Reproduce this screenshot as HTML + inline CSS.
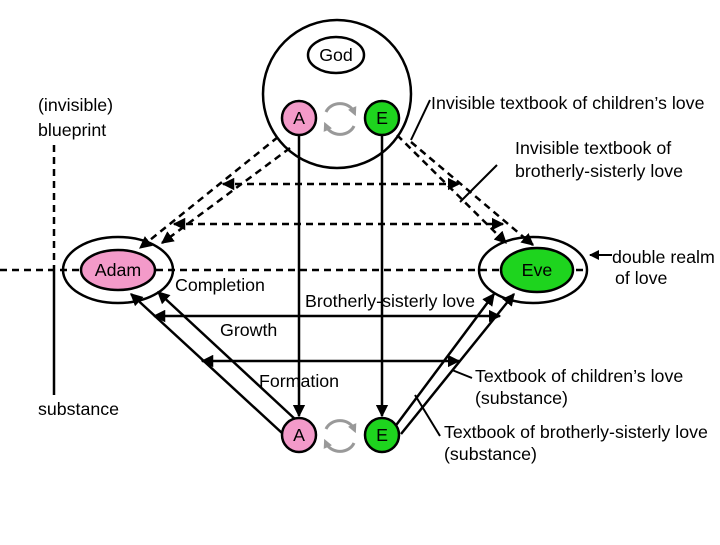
<!DOCTYPE html>
<html><head><style>
body{margin:0;background:#fff}
svg text{font-family:"Liberation Sans",Arial,sans-serif;font-size:17.8px;fill:#000}
</style></head><body>
<svg width="720" height="540" viewBox="0 0 720 540" xmlns="http://www.w3.org/2000/svg">
<defs>
<marker id="ar" viewBox="0 0 10 10" refX="9" refY="5" markerWidth="5" markerHeight="5" orient="auto-start-reverse"><path d="M0,0L10,5L0,10z" fill="#000"/></marker>
<marker id="ag" viewBox="0 0 10 10" refX="5" refY="5" markerWidth="3" markerHeight="3" orient="auto"><path d="M0,0L10,5L0,10z" fill="#999"/></marker>
</defs>
<rect width="720" height="540" fill="#fff"/>
<g stroke="#000" stroke-width="2.5" fill="none">
<ellipse cx="337" cy="94" rx="74" ry="74"/>
<ellipse cx="336" cy="55" rx="28" ry="18"/>
<g stroke-dasharray="7,5">
<line x1="0" y1="270" x2="588" y2="270"/>
<line x1="54" y1="145" x2="54" y2="270"/>
<line x1="278" y1="137" x2="140" y2="248" marker-end="url(#ar)"/>
<line x1="290" y1="148" x2="162" y2="243" marker-end="url(#ar)"/>
<line x1="223" y1="184" x2="459" y2="184" marker-start="url(#ar)" marker-end="url(#ar)"/>
<line x1="174" y1="224" x2="503" y2="224" marker-start="url(#ar)" marker-end="url(#ar)"/>
<line x1="397" y1="135" x2="506" y2="243" marker-end="url(#ar)"/>
<line x1="411" y1="142" x2="533" y2="245" marker-end="url(#ar)"/>
</g>
<line x1="54" y1="270" x2="54" y2="395"/>
<line x1="299" y1="136" x2="299" y2="416" marker-end="url(#ar)"/>
<line x1="382" y1="136" x2="382" y2="416" marker-end="url(#ar)"/>
<line x1="282" y1="433" x2="131" y2="294" marker-end="url(#ar)"/>
<line x1="296" y1="420" x2="158" y2="292" marker-end="url(#ar)"/>
<line x1="394" y1="428" x2="494" y2="294" marker-end="url(#ar)"/>
<line x1="401" y1="434" x2="514" y2="294" marker-end="url(#ar)"/>
<line x1="154" y1="316" x2="500" y2="316" marker-start="url(#ar)" marker-end="url(#ar)"/>
<line x1="202" y1="361" x2="459" y2="361" marker-start="url(#ar)" marker-end="url(#ar)"/>
<ellipse cx="118" cy="270" rx="55" ry="33"/>
<ellipse cx="533" cy="270" rx="54" ry="33"/>
<line x1="430" y1="100" x2="411" y2="140" stroke-width="2"/>
<line x1="497" y1="165" x2="460" y2="202" stroke-width="2"/>
<line x1="612" y1="255" x2="590" y2="255" stroke-width="2" marker-end="url(#ar)"/>
<line x1="472" y1="378" x2="452" y2="370" stroke-width="2"/>
<line x1="440" y1="436" x2="415" y2="395" stroke-width="2"/>
</g>
<g stroke="#000" stroke-width="2.5">
<ellipse cx="118" cy="270" rx="37" ry="20" fill="#f39ac9"/>
<ellipse cx="537" cy="270" rx="36" ry="22" fill="#1ed41e"/>
<ellipse cx="299" cy="118" rx="17" ry="17" fill="#f39ac9"/>
<ellipse cx="382" cy="118" rx="17" ry="17" fill="#1ed41e"/>
<ellipse cx="299" cy="435" rx="17" ry="17" fill="#f39ac9"/>
<ellipse cx="382" cy="435" rx="17" ry="17" fill="#1ed41e"/>
</g>
<g stroke="#999" stroke-width="3" fill="none">
<path d="M326,112 A15,13 0 0 1 354,112" marker-end="url(#ag)"/><path d="M354,126 A15,13 0 0 1 326,126" marker-end="url(#ag)"/>
<path d="M326,429 A15,13 0 0 1 354,429" marker-end="url(#ag)"/><path d="M354,443 A15,13 0 0 1 326,443" marker-end="url(#ag)"/>
</g>
<text x="336" y="61" text-anchor="middle">God</text>
<text x="299" y="124" text-anchor="middle">A</text>
<text x="382" y="124" text-anchor="middle">E</text>
<text x="299" y="441" text-anchor="middle">A</text>
<text x="382" y="441" text-anchor="middle">E</text>
<text x="118" y="276" text-anchor="middle">Adam</text>
<text x="537" y="276" text-anchor="middle">Eve</text>
<text x="38" y="111">(invisible)</text>
<text x="38" y="136">blueprint</text>
<text x="431" y="109">Invisible textbook of children’s love</text>
<text x="515" y="154">Invisible textbook of</text>
<text x="515" y="177">brotherly-sisterly love</text>
<text x="612" y="263">double realm</text>
<text x="615" y="284">of  love</text>
<text x="175" y="291">Completion</text>
<text x="305" y="307">Brotherly-sisterly love</text>
<text x="220" y="336">Growth</text>
<text x="259" y="387">Formation</text>
<text x="38" y="415">substance</text>
<text x="475" y="382">Textbook of children’s love</text>
<text x="475" y="404">(substance)</text>
<text x="444" y="438">Textbook of brotherly-sisterly love</text>
<text x="444" y="460">(substance)</text>
</svg>
</body></html>
